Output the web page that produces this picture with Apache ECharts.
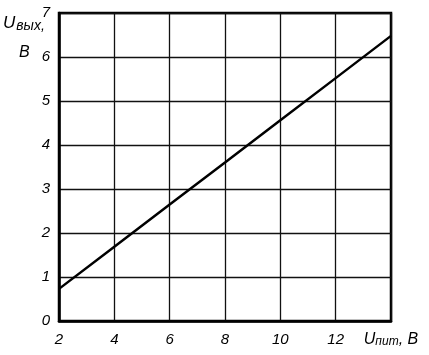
<!DOCTYPE html>
<html>
<head>
<meta charset="utf-8">
<script src="https://cdn.jsdelivr.net/npm/echarts@6/dist/echarts.min.js"></script>
<style>html,body{margin:0;padding:0;background:#fff}#c{width:429px;height:355px}</style>
</head>
<body>
<div id="c"></div>
<script>
const xValues = [2, 4, 6, 8, 10, 12, 14];
const yValues = [0.73, 1.69, 2.65, 3.60, 4.56, 5.52, 6.48];
const xTicks = [2, 4, 6, 8, 10, 12];
const yTicks = [0, 1, 2, 3, 4, 5, 6, 7];

const FONT = '"Liberation Sans", Arial, sans-serif';
const chart = echarts.init(document.getElementById('c'));
chart.setOption({
  animation: false,
  backgroundColor: '#fff',
  grid: { left: 59, top: 13, width: 332, height: 308, show: true, borderColor: '#000', borderWidth: 2.5, backgroundColor: 'transparent' },
  xAxis: {
    type: 'value', min: 2, max: 14, interval: 2,
    axisLine: { show: true, lineStyle: { color: '#000', width: 2.5 } },
    axisTick: { show: false },
    splitLine: { show: true, lineStyle: { color: '#111', width: 1.3 } },
    axisLabel: {
      margin: 11, color: '#000', fontSize: 15, fontStyle: 'italic', fontFamily: FONT,
      formatter: v => v === 14 ? '{u|U}{s|пит}{u|, В}' : String(v),
      rich: {
        u: { fontSize: 16, fontStyle: 'italic', fontFamily: FONT, color: '#000' },
        s: { fontSize: 12, fontStyle: 'italic', fontFamily: FONT, color: '#000', padding: [4, 0, 0, 0] }
      }
    }
  },
  yAxis: {
    type: 'value', min: 0, max: 7, interval: 1,
    axisLine: { show: true, lineStyle: { color: '#000', width: 2.5 } },
    axisTick: { show: false },
    splitLine: { show: true, lineStyle: { color: '#111', width: 1.3 } },
    axisLabel: { margin: 9, color: '#000', fontSize: 15, fontStyle: 'italic', fontFamily: FONT }
  },
  graphic: [
    { type: 'text', left: 3, top: 15, style: {
        text: '{u|U}{s|вых,}', fill: '#000',
        rich: {
          u: { fontSize: 17, fontStyle: 'italic', fontFamily: FONT, fill: '#000' },
          s: { fontSize: 14, fontStyle: 'italic', fontFamily: FONT, fill: '#000', padding: [5, 0, 0, 1] }
        } } },
    { type: 'text', left: 19, top: 45, style: { text: 'В', fontSize: 16, fontStyle: 'italic', fontFamily: FONT, fill: '#000' } }
  ],
  series: [{
    type: 'line',
    data: xValues.map((x, i) => [x, yValues[i]]),
    showSymbol: false,
    lineStyle: { color: '#000', width: 2.5 },
    clip: false
  }]
});
</script>
</body>
</html>
